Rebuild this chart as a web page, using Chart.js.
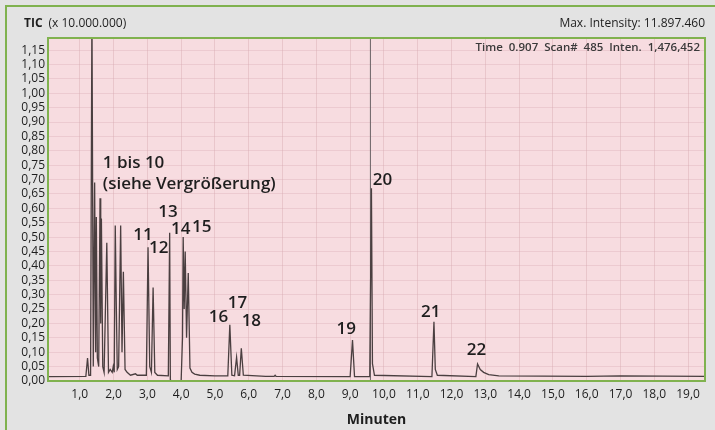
<!DOCTYPE html>
<html><head><meta charset="utf-8">
<script src="https://cdn.jsdelivr.net/npm/chart.js@4"></script>
<style>html,body{margin:0;padding:0;background:#e3e3e3;overflow:hidden}</style>
</head><body>
<canvas id="c" width="715" height="430"></canvas>
<script>
// Retention time (min) and intensity (x 10.000.000)
const times = [0.06,1.18,1.23,1.27,1.32,1.36,1.40,1.44,1.47,1.49,1.52,1.56,1.60,1.62,1.64,1.68,1.72,1.80,1.85,1.90,1.96,1.99,2.02,2.05,2.08,2.11,2.15,2.21,2.25,2.29,2.34,2.40,2.50,2.65,2.70,2.97,3.02,3.07,3.12,3.17,3.22,3.30,3.62,3.66,3.68,3.70,4.00,4.04,4.06,4.09,4.12,4.16,4.21,4.26,4.32,4.40,4.55,5.00,5.38,5.44,5.50,5.58,5.64,5.69,5.73,5.78,5.84,6.50,6.75,6.78,6.81,9.00,9.07,9.13,9.58,9.63,9.66,9.72,11.42,11.48,11.52,11.58,12.72,12.77,12.85,12.95,13.10,13.40,16.00,17.00,19.50];
const intensities = [0.015,0.016,0.080,0.020,0.020,1.300,0.050,0.690,0.100,0.570,0.080,0.050,0.635,0.200,0.565,0.050,0.030,0.480,0.030,0.040,0.030,0.050,0.030,0.540,0.270,0.040,0.050,0.540,0.100,0.380,0.040,0.030,0.020,0.025,0.020,0.020,0.465,0.050,0.030,0.325,0.030,0.020,0.018,0.515,0.005,0.001,0.002,0.150,0.500,0.250,0.450,0.150,0.375,0.045,0.030,0.024,0.020,0.018,0.018,0.195,0.020,0.018,0.082,0.020,0.020,0.114,0.020,0.016,0.016,0.020,0.016,0.015,0.142,0.015,0.015,0.670,0.060,0.020,0.015,0.206,0.040,0.020,0.015,0.059,0.040,0.030,0.022,0.018,0.016,0.018,0.016];
const cursorTime = [9.60, 9.60];
const cursorIntensity = [0.0, 1.30];
const xTickValues = [1,2,3,4,5,6,7,8,9,10,11,12,13,14,15,16,17,18,19];
const yTickValues = [0,0.05,0.10,0.15,0.20,0.25,0.30,0.35,0.40,0.45,0.50,0.55,0.60,0.65,0.70,0.75,0.80,0.85,0.90,0.95,1.00,1.05,1.10,1.15];
const peakNames = ["1 bis 10","(siehe Vergrößerung)","11","12","13","14","15","16","17","18","19","20","21","22"];
const peakNameTimes = [1.68,1.68,2.58,3.05,3.32,3.70,4.32,4.82,5.38,5.79,8.60,9.67,11.10,12.45];
const peakNameValues = [0.757,0.684,0.507,0.462,0.587,0.528,0.535,0.222,0.270,0.208,0.181,0.698,0.240,0.108];

const GREEN = '#80b24f';
const FONT = '"Open Sans", "Noto Sans", sans-serif';
const fmt = (v, d) => v.toFixed(d).replace('.', ',');

const decor = {
  id: 'decor',
  beforeDraw(chart) {
    const {ctx, chartArea: a} = chart;
    ctx.save();
    ctx.fillStyle = '#e3e3e3';
    ctx.fillRect(0, 0, chart.width, chart.height);
    ctx.fillStyle = '#f7dce0';
    ctx.fillRect(a.left, a.top, a.right - a.left, a.bottom - a.top);
    ctx.strokeStyle = GREEN; ctx.lineWidth = 2;
    ctx.beginPath(); ctx.moveTo(6, 430); ctx.lineTo(6, 6); ctx.lineTo(715, 6); ctx.stroke();
    ctx.restore();
  },
  afterDatasetsDraw(chart) {
    const {ctx, chartArea: a, scales} = chart;
    ctx.save();
    ctx.fillStyle = '#1e1e1e';
    ctx.font = '600 17px ' + FONT;
    ctx.textBaseline = 'middle'; ctx.textAlign = 'left';
    peakNames.forEach((t, i) => {
      ctx.fillText(t, scales.x.getPixelForValue(peakNameTimes[i]), scales.y.getPixelForValue(peakNameValues[i]));
    });
    // info line inside the plot
    ctx.font = '600 11.5px ' + FONT;
    ctx.fillStyle = '#3a3a3a';
    ctx.textAlign = 'right';
    ctx.fillText('Time  0.907  Scan#  485  Inten.  1,476,452', a.right - 5, a.top + 10);
    // headers
    ctx.fillStyle = '#1e1e1e';
    ctx.textAlign = 'left';
    ctx.font = 'bold 12px ' + FONT;
    ctx.fillText('TIC', 24, 24);
    const w = ctx.measureText('TIC').width;
    ctx.font = '12px ' + FONT;
    ctx.fillText('(x 10.000.000)', 24 + w + 6, 24);
    ctx.textAlign = 'right';
    ctx.fillText('Max. Intensity: 11.897.460', 705, 24);
    // plot frame
    ctx.strokeStyle = GREEN; ctx.lineWidth = 2;
    ctx.strokeRect(a.left, a.top, a.right - a.left, a.bottom - a.top);
    ctx.restore();
  }
};

new Chart(document.getElementById('c'), {
  type: 'line',
  data: {
    datasets: [
      {
        data: times.map((t, i) => ({x: t, y: intensities[i]})),
        borderColor: '#4a3f40', borderWidth: 1.3, pointRadius: 0, tension: 0, fill: false
      },
      {
        data: cursorTime.map((t, i) => ({x: t, y: cursorIntensity[i]})),
        borderColor: '#6a6264', borderWidth: 1, pointRadius: 0, fill: false
      }
    ]
  },
  options: {
    responsive: false, animation: false, devicePixelRatio: 1,
    layout: {padding: {left: 0, right: 10, top: 38, bottom: 0}},
    plugins: {legend: {display: false}, tooltip: {enabled: false}},
    scales: {
      x: {
        type: 'linear', min: 0.06, max: 19.5,
        afterBuildTicks: s => { s.ticks = xTickValues.map(v => ({value: v})); },
        afterFit: s => { s.height = 49; },
        grid: {color: 'rgba(215,170,178,0.45)', drawTicks: false},
        border: {display: false},
        ticks: {padding: 6, color: '#1e1e1e', font: {family: FONT, size: 12}, callback: v => fmt(v, 1), maxRotation: 0, autoSkip: false},
        title: {display: true, text: 'Minuten', color: '#1e1e1e', font: {family: FONT, size: 14, weight: 'bold'}, padding: {top: 0, bottom: 2}}
      },
      y: {
        type: 'linear', min: 0, max: 1.192,
        afterBuildTicks: s => { s.ticks = yTickValues.map(v => ({value: v})); },
        afterFit: s => { s.width = 48; },
        grid: {color: 'rgba(215,170,178,0.35)', drawTicks: false},
        border: {display: false},
        ticks: {padding: 3, color: '#1e1e1e', font: {family: FONT, size: 12}, callback: v => fmt(v, 2), autoSkip: false}
      }
    }
  },
  plugins: [decor]
});
</script>
</body></html>
